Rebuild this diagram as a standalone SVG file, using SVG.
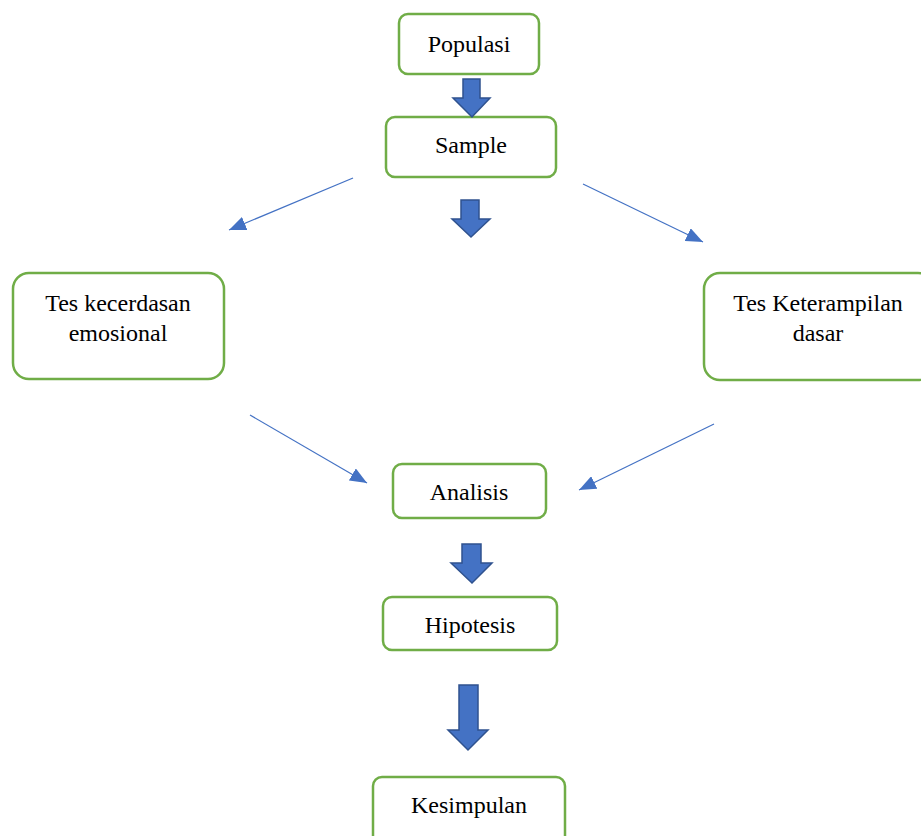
<svg xmlns="http://www.w3.org/2000/svg" width="921" height="836" viewBox="0 0 921 836">
<defs>
<style>
.box{fill:#fff;stroke:#70AD47;stroke-width:2.5}
.t{font-family:"Liberation Serif","Times New Roman",serif;font-size:24px;fill:#000;text-anchor:middle}
.blk{fill:#4472C4;stroke:#2F528F;stroke-width:1.5;stroke-linejoin:miter}
.ln{stroke:#4472C4;stroke-width:1.2;fill:none}
</style>
<marker id="ah" markerUnits="userSpaceOnUse" markerWidth="18" markerHeight="14" refX="17" refY="7" orient="auto">
<path d="M0,0 L17,7 L0,14 z" fill="#4472C4"/>
</marker>
</defs>
<rect width="921" height="836" fill="#fff"/>
<g id="populasi"><rect class="box" x="399" y="14" width="140" height="60" rx="9"/><text class="t" x="469" y="52">Populasi</text></g>
<g id="sample"><rect class="box" x="386" y="117" width="170" height="60" rx="9"/><text class="t" x="471" y="153">Sample</text></g>
<g id="tes-kecerdasan"><rect class="box" x="13" y="273" width="211" height="106" rx="16"/><text class="t" x="118" y="311">Tes kecerdasan</text><text class="t" x="118" y="341">emosional</text></g>
<g id="tes-keterampilan"><rect class="box" x="704" y="273" width="230" height="107" rx="16"/><text class="t" x="818" y="311">Tes Keterampilan</text><text class="t" x="818" y="341">dasar</text></g>
<g id="analisis"><rect class="box" x="393" y="464" width="153" height="54" rx="9"/><text class="t" x="469" y="500">Analisis</text></g>
<g id="hipotesis"><rect class="box" x="383" y="597" width="174" height="53" rx="9"/><text class="t" x="470" y="633">Hipotesis</text></g>
<g id="kesimpulan"><rect class="box" x="373" y="777" width="192" height="80" rx="9"/><text class="t" x="469" y="813">Kesimpulan</text></g>
<g id="connectors">
<path class="blk" d="M463,79 H480 V98 H490 L472,117 L453,98 H463 Z"/>
<path class="blk" d="M461,200 H479 V219 H490 L471,237 L452,219 H461 Z"/>
<path class="blk" d="M462,544 H481 V563 H492 L472,583 L451,563 H462 Z"/>
<path class="blk" d="M459,685 H478 V730 H488 L468,750 L448,730 H459 Z"/>
<line class="ln" x1="353" y1="178" x2="229" y2="230" marker-end="url(#ah)"/>
<line class="ln" x1="583" y1="184" x2="703" y2="242" marker-end="url(#ah)"/>
<line class="ln" x1="250" y1="415" x2="367" y2="483" marker-end="url(#ah)"/>
<line class="ln" x1="714" y1="424" x2="579" y2="490" marker-end="url(#ah)"/>
</g>
</svg>
